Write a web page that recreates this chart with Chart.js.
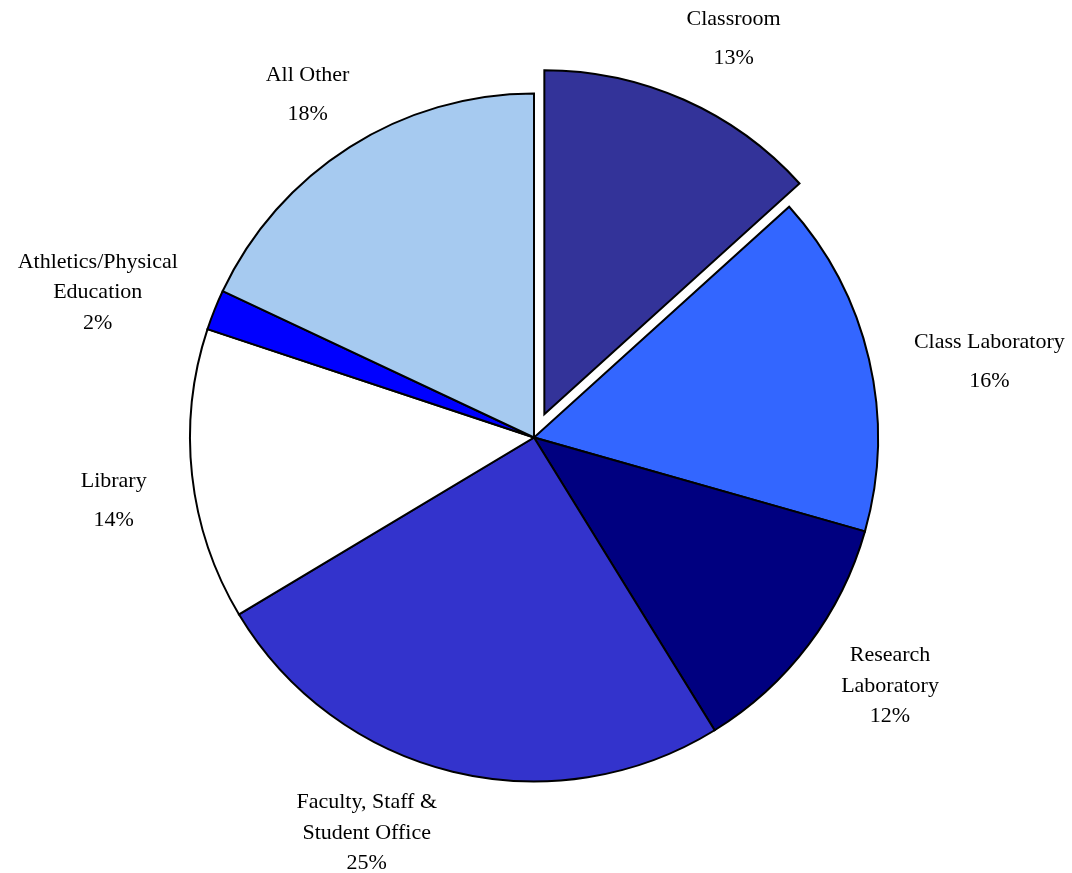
<!DOCTYPE html>
<html>
<head>
<meta charset="utf-8">
<script src="https://cdn.jsdelivr.net/npm/chart.js@4/dist/chart.umd.min.js"></script>
<style>
  html, body { margin: 0; padding: 0; background: #ffffff; }
  #wrap { width: 1072px; height: 873px; position: relative; }
</style>
</head>
<body>
<div id="wrap"><canvas id="c" width="1072" height="873"></canvas></div>
<script>
// ---- data ----
const categories = [
  "Classroom",
  "Class Laboratory",
  "Research Laboratory",
  "Faculty, Staff & Student Office",
  "Library",
  "Athletics/Physical Education",
  "All Other"
];
const labelLines = [
  ["Classroom"],
  ["Class Laboratory"],
  ["Research", "Laboratory"],
  ["Faculty, Staff &", "Student Office"],
  ["Library"],
  ["Athletics/Physical", "Education"],
  ["All Other"]
];
// share of space (%)
const shareValues = [13.3, 16.1, 11.8, 25.2, 13.7, 1.9, 18.0];

// ---- styling ----
const sliceColors = ["#333399", "#3366FF", "#000080", "#3333CC", "#FFFFFF", "#0000FF", "#A6CAF0"];
const explodeDistance = [25.5, 0, 0, 0, 0, 0, 0];
// label placement: nudge (dx, dy) from an anchor at a fixed distance along each slice's mid angle
const labelDistance = 445;
const labelNudges = [[19, 8], [22, 25], [1, -20], [-62, -37], [22, 14], [-23, 20], [12, 33]];

const explodePlugin = {
  id: 'explodeSlices',
  beforeDatasetsDraw(chart) {
    const meta = chart.getDatasetMeta(0);
    const cx = (chart.chartArea.left + chart.chartArea.right) / 2;
    const cy = (chart.chartArea.top + chart.chartArea.bottom) / 2;
    meta.data.forEach((arc, i) => {
      const d = explodeDistance[i] || 0;
      const mid = (arc.startAngle + arc.endAngle) / 2;
      arc.x = cx + Math.cos(mid) * d;
      arc.y = cy + Math.sin(mid) * d;
    });
  }
};

const labelPlugin = {
  id: 'pieLabels',
  afterDatasetsDraw(chart) {
    const ctx = chart.ctx;
    const meta = chart.getDatasetMeta(0);
    const cx = (chart.chartArea.left + chart.chartArea.right) / 2;
    const cy = (chart.chartArea.top + chart.chartArea.bottom) / 2;
    const total = shareValues.reduce((a, b) => a + b, 0);
    ctx.save();
    ctx.font = '22px "Liberation Serif", "Times New Roman", serif';
    ctx.fillStyle = '#000000';
    ctx.textAlign = 'center';
    ctx.textBaseline = 'middle';
    meta.data.forEach((arc, i) => {
      const mid = (arc.startAngle + arc.endAngle) / 2;
      const x = cx + Math.cos(mid) * labelDistance + labelNudges[i][0];
      const y = cy + Math.sin(mid) * labelDistance + labelNudges[i][1];
      const pct = Math.round(shareValues[i] / total * 100);
      const lines = labelLines[i].concat([pct + '%']);
      const lh = lines.length === 2 ? 39 : 30.5;
      const top = y - (lines.length - 1) * lh / 2;
      lines.forEach((t, k) => ctx.fillText(t, x, top + k * lh));
    });
    ctx.restore();
  }
};

new Chart(document.getElementById('c'), {
  type: 'pie',
  data: {
    labels: categories,
    datasets: [{
      data: shareValues,
      backgroundColor: sliceColors,
      borderColor: '#000000',
      borderWidth: 2,
      borderJoinStyle: 'miter'
    }]
  },
  options: {
    responsive: false,
    animation: false,
    radius: 344,
    layout: { padding: { left: 0, right: 4, top: 2, bottom: 0 } },
    plugins: {
      legend: { display: false },
      tooltip: { enabled: false }
    }
  },
  plugins: [explodePlugin, labelPlugin]
});
</script>
</body>
</html>
